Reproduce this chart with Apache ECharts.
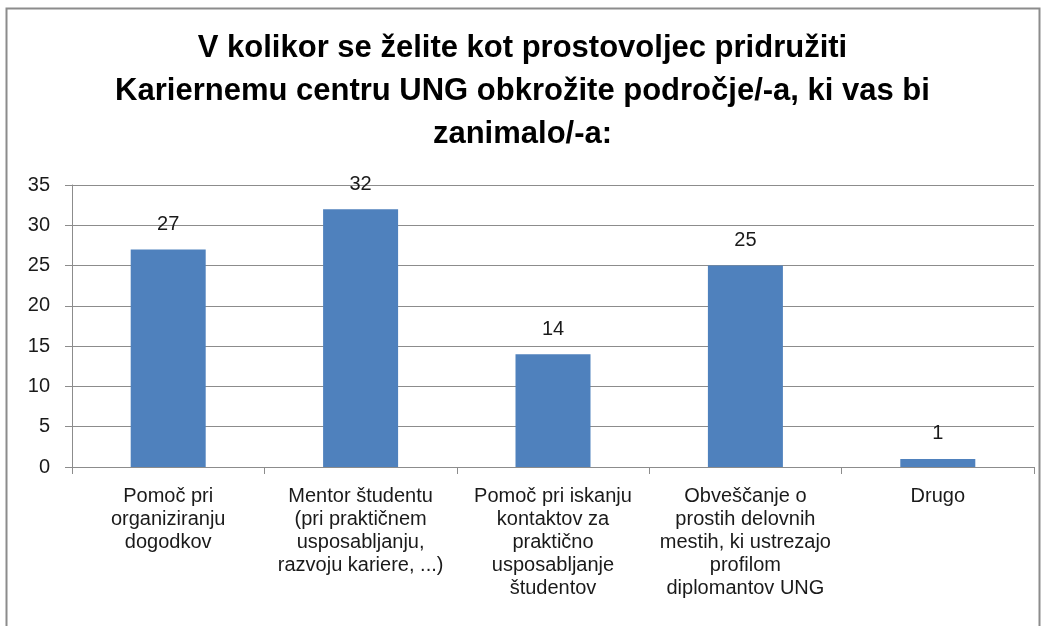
<!DOCTYPE html>
<html><head><meta charset="utf-8">
<script src="https://cdn.jsdelivr.net/npm/echarts@6/dist/echarts.min.js"></script>
<style>html,body{margin:0;padding:0;background:#fff}#c{width:1045px;height:626px}</style>
</head><body><div id="c"></div>
<script>
const titleText = "V kolikor se želite kot prostovoljec pridružiti\nKariernemu centru UNG obkrožite področje/-a, ki vas bi\nzanimalo/-a:";
const categories = [
  "Pomoč pri\norganiziranju\ndogodkov",
  "Mentor študentu\n(pri praktičnem\nusposabljanju,\nrazvoju kariere, ...)",
  "Pomoč pri iskanju\nkontaktov za\npraktično\nusposabljanje\nštudentov",
  "Obveščanje o\nprostih delovnih\nmestih, ki ustrezajo\nprofilom\ndiplomantov UNG",
  "Drugo"
];
const values = [27, 32, 14, 25, 1];
const yTicks = {min: 0, max: 35, interval: 5};

const chart = echarts.init(document.getElementById('c'));
chart.setOption({
  animation: false,
  graphic: [{type: 'rect', shape: {x: 6.5, y: 8.5, width: 1033, height: 640}, style: {fill: 'none', stroke: '#8c8c8c', lineWidth: 2}}],
  title: {
    text: titleText, left: 'center', top: 22,
    textStyle: {fontFamily: 'Liberation Sans', fontWeight: 'bold', fontSize: 31, lineHeight: 43, color: '#000'}
  },
  grid: {left: 72, right: 11, top: 185, bottom: 159, containLabel: false},
  xAxis: {
    type: 'category', data: categories,
    axisLine: {lineStyle: {color: '#8c8c8c'}},
    axisTick: {show: true, length: 7, lineStyle: {color: '#8c8c8c'}},
    axisLabel: {interval: 0, color: '#1a1a1a', fontFamily: 'Liberation Sans', fontSize: 20, lineHeight: 23, margin: 18}
  },
  yAxis: {
    type: 'value', min: yTicks.min, max: yTicks.max, interval: yTicks.interval,
    axisLine: {show: true, lineStyle: {color: '#8c8c8c'}},
    axisTick: {show: true, length: 7, lineStyle: {color: '#8c8c8c'}},
    splitLine: {lineStyle: {color: '#8c8c8c'}},
    axisLabel: {color: '#1a1a1a', fontFamily: 'Liberation Sans', fontSize: 20, margin: 22}
  },
  series: [{
    type: 'bar', data: values, barWidth: 75,
    itemStyle: {color: '#4f81bd'},
    label: {show: true, position: 'top', distance: 15, color: '#1a1a1a', fontFamily: 'Liberation Sans', fontSize: 20}
  }]
});
</script></body></html>
